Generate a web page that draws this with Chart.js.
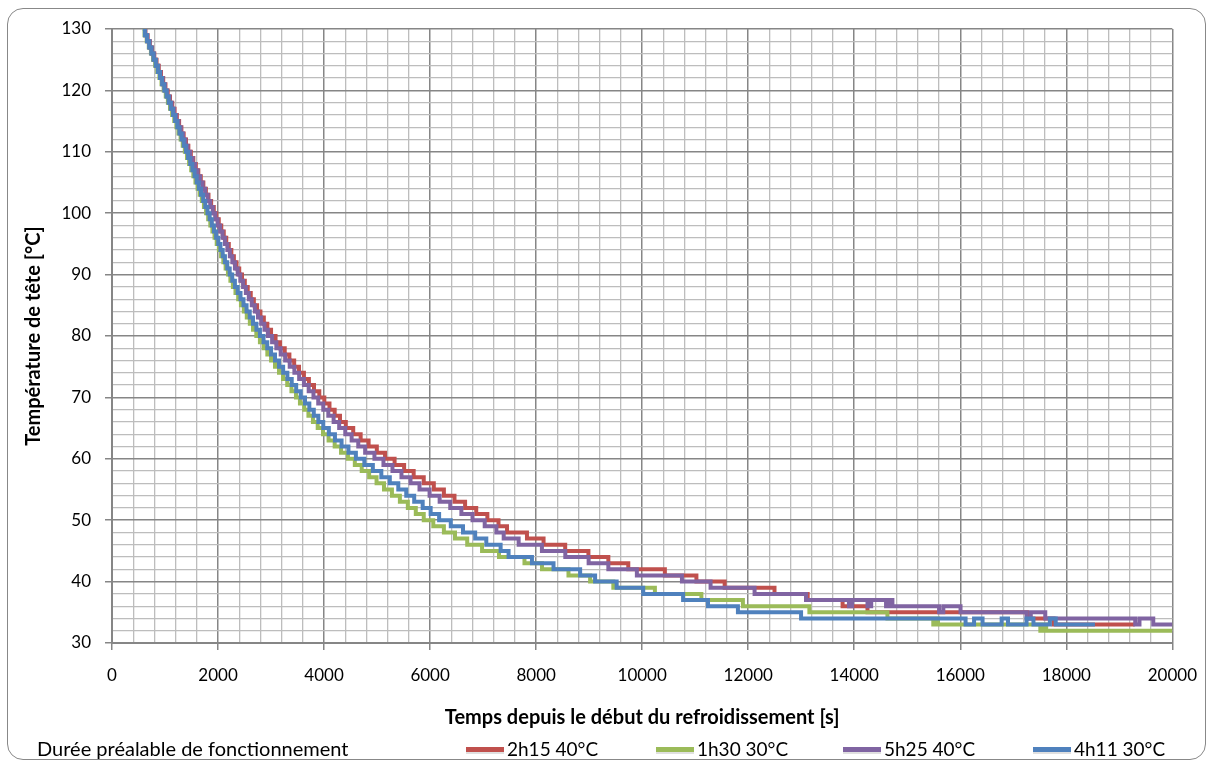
<!DOCTYPE html>
<html>
<head>
<meta charset="utf-8">
<script src="https://cdn.jsdelivr.net/npm/chart.js@4.4.0/dist/chart.umd.min.js"></script>
<style>
  html, body { margin: 0; padding: 0; background: #ffffff; }
  #wrap { position: relative; width: 1212px; height: 765px; overflow: hidden; font-family: 'Lato', 'Liberation Sans', sans-serif; }
  #frame { position: absolute; left: 7px; top: 8px; width: 1197px; height: 750px; border: 1.5px solid #888888; border-radius: 16px; }
  canvas { position: absolute; left: 0; top: 0; }
  .lg { position: absolute; top: 738px; font-size: 19px; line-height: 22px; color: #000; white-space: nowrap; }
  .lgt { font-size: 20px; top: 737px; }
  .mk { position: absolute; top: 747px; width: 38px; height: 5px; box-shadow: 0 2px 0 rgba(0,0,0,0.12); }
</style>
</head>
<body>
<div id="wrap">
  <div id="frame"></div>
  <canvas id="c" width="1212" height="765"></canvas>
  <div id="legend"></div>
</div>
<script>
// ---- Data: [time in s, head temperature in °C] step points ----
const seriesNames = ['2h15 40°C', '1h30 30°C', '5h25 40°C', '4h11 30°C'];
const seriesColors = ['#C0504D', '#9BBB59', '#8064A2', '#4F81BD'];
const legendTitle = 'Durée préalable de fonctionnement';
const xTicksMajor = [0, 2000, 4000, 6000, 8000, 10000, 12000, 14000, 16000, 18000, 20000];
const yTicksMajor = [30, 40, 50, 60, 70, 80, 90, 100, 110, 120, 130];

const data_2h15 = [
[588,130],[630,129],[672,128],[714,127],[756,126],[798,125],[840,124],[882,123],[924,122],[966,121],
[1008,120],[1051,119],[1094,118],[1137,117],[1180,116],[1223,115],[1266,114],[1309,113],[1352,112],[1396,111],
[1440,110],[1487,109],[1534,108],[1581,107],[1628,106],[1675,105],[1723,104],[1771,103],[1820,102],[1870,101],
[1920,100],[1967,99],[2014,98],[2061,97],[2108,96],[2155,95],[2203,94],[2251,93],[2299,92],[2349,91],
[2400,90],[2452,89],[2505,88],[2560,87],[2617,86],[2676,85],[2737,84],[2800,83],[2864,82],[2930,81],
[3000,80],[3085,79],[3170,78],[3258,77],[3346,76],[3436,75],[3527,74],[3620,73],[3714,72],[3810,71],
[3910,70],[4005,69],[4102,68],[4200,67],[4300,66],[4410,65],[4550,64],[4690,63],[4840,62],[4995,61],
[5150,60],[5330,59],[5510,58],[5690,57],[5880,56],[6070,55],[6260,54],[6460,53],[6660,52],[6870,51],
[7080,50],[7290,49],[7451,48],[7827,47],[8140,46],[8548,45],[8986,44],[9362,43],[9738,42],[10428,41],
[11023,40],[11556,39],[12496,38],[13122,37],[13780,36],[14250,35],[17260,34],[17760,33],[19290,33]
];

const data_1h30 = [
[575,130],[614,129],[654,128],[694,127],[734,126],[774,125],[814,124],[854,123],[894,122],[934,121],
[974,120],[1014,119],[1054,118],[1094,117],[1134,116],[1174,115],[1214,114],[1254,113],[1294,112],[1334,111],
[1374,110],[1414,109],[1454,108],[1494,107],[1534,106],[1574,105],[1614,104],[1654,103],[1694,102],[1734,101],
[1774,100],[1814,99],[1854,98],[1894,97],[1934,96],[1975,95],[2016,94],[2058,93],[2100,92],[2143,91],
[2187,90],[2233,89],[2280,88],[2329,87],[2380,86],[2432,85],[2486,84],[2542,83],[2600,82],[2660,81],
[2722,80],[2790,79],[2860,78],[2930,77],[3000,76],[3075,75],[3150,74],[3225,73],[3305,72],[3385,71],
[3470,70],[3545,69],[3625,68],[3705,67],[3790,66],[3880,65],[3980,64],[4085,63],[4200,62],[4320,61],
[4450,60],[4580,59],[4710,58],[4850,57],[4990,56],[5130,55],[5280,54],[5430,53],[5580,52],[5730,51],
[5880,50],[6060,49],[6260,48],[6470,47],[6700,46],[6980,45],[7300,44],[7780,43],[8110,42],[8610,41],
[9018,40],[9456,39],[10240,38],[11117,37],[11900,36],[13154,35],[14626,34],[15491,33],[15540,34],[15580,33],
[17510,32],[17560,33],[17620,32],[20000,32]
];

const data_5h25 = [
[585,130],[626,129],[667,128],[708,127],[749,126],[790,125],[831,124],[872,123],[913,122],[954,121],
[995,120],[1038,119],[1081,118],[1124,117],[1167,116],[1210,115],[1253,114],[1296,113],[1339,112],[1382,111],
[1425,110],[1472,109],[1519,108],[1566,107],[1613,106],[1660,105],[1708,104],[1756,103],[1804,102],[1852,101],
[1900,100],[1946,99],[1992,98],[2038,97],[2084,96],[2130,95],[2176,94],[2223,93],[2270,92],[2319,91],
[2370,90],[2420,89],[2472,88],[2525,87],[2580,86],[2636,85],[2694,84],[2753,83],[2814,82],[2876,81],
[2940,80],[3020,79],[3100,78],[3182,77],[3266,76],[3352,75],[3440,74],[3530,73],[3620,72],[3710,71],
[3800,70],[3890,69],[3985,68],[4080,67],[4180,66],[4285,65],[4400,64],[4520,63],[4645,62],[4775,61],
[4950,60],[5120,59],[5290,58],[5460,57],[5630,56],[5800,55],[5990,54],[6180,53],[6380,52],[6590,51],
[6800,50],[7030,49],[7250,48],[7388,47],[7670,46],[8109,45],[8550,44],[8990,43],[9362,42],[9900,41],
[10750,40],[11290,39],[12120,38],[13090,37],[13900,36],[13960,37],[14250,36],[14320,37],[14600,36],[14650,37],
[14720,36],[15600,35],[15680,36],[16005,35],[17250,34],[17330,35],[17603,34],[19300,33],[19380,34],[19640,33],
[20000,33]
];

const data_4h11 = [
[580,130],[620,129],[661,128],[702,127],[743,126],[783,125],[824,124],[865,123],[906,122],[946,121],
[987,120],[1028,119],[1068,118],[1109,117],[1150,116],[1190,115],[1231,114],[1272,113],[1313,112],[1353,111],
[1394,110],[1435,109],[1475,108],[1516,107],[1557,106],[1598,105],[1638,104],[1679,103],[1720,102],[1760,101],
[1801,100],[1842,99],[1883,98],[1923,97],[1964,96],[2005,95],[2046,94],[2088,93],[2130,92],[2174,91],
[2220,90],[2268,89],[2318,88],[2370,87],[2424,86],[2480,85],[2538,84],[2598,83],[2660,82],[2724,81],
[2790,80],[2858,79],[2928,78],[3000,77],[3074,76],[3150,75],[3228,74],[3308,73],[3390,72],[3474,71],
[3560,70],[3640,69],[3722,68],[3806,67],[3892,66],[3985,65],[4090,64],[4205,63],[4330,62],[4460,61],
[4600,60],[4760,59],[4920,58],[5080,57],[5240,56],[5400,55],[5550,54],[5700,53],[5860,52],[6010,51],
[6170,50],[6390,49],[6620,48],[6850,47],[7060,46],[7330,45],[7480,44],[7921,43],[8328,42],[8830,41],
[9112,40],[9519,39],[10020,38],[10772,37],[11242,36],[11806,35],[12997,34],[16100,33],[16260,34],[16420,33],
[16780,34],[16900,33],[17250,34],[17380,33],[17690,34],[17800,33],[18540,33]
];

const seriesData = [data_2h15, data_1h30, data_5h25, data_4h11];
const drawOrder = [4, 3, 2, 1]; // blue on top, as in the original

const FONT = "'Lato', 'Liberation Sans', sans-serif";
const MAJOR = '#868686', MINOR = '#bdbdbd';
const isMajorX = v => xTicksMajor.includes(Math.round(v));
const isMajorY = v => yTicksMajor.includes(Math.round(v));

new Chart(document.getElementById('c'), {
  type: 'line',
  data: {
    datasets: seriesData.map((d, i) => ({
      label: seriesNames[i],
      data: d.map(p => ({ x: p[0], y: p[1] })),
      borderColor: seriesColors[i],
      backgroundColor: seriesColors[i],
      borderWidth: 4,
      stepped: 'before',
      pointRadius: 0,
      fill: false,
      order: drawOrder[i],
      borderJoinStyle: 'miter',
      borderCapStyle: 'butt'
    }))
  },
  options: {
    responsive: false,
    animation: false,
    devicePixelRatio: 1,
    layout: { padding: { left: 0, right: 36, top: 29, bottom: 0 } },
    plugins: { legend: { display: false }, tooltip: { enabled: false } },
    scales: {
      x: {
        type: 'linear', min: 0, max: 20000,
        afterFit: s => { s.height = 122; },
        afterBuildTicks: s => { s.ticks = []; for (let v = 0; v <= 20000; v += 400) s.ticks.push({ value: v }); },
        ticks: {
          autoSkip: false, maxRotation: 0, padding: 15, color: '#000',
          font: { family: FONT, size: 17 },
          callback: v => isMajorX(v) ? String(v) : ''
        },
        grid: {
          color: c => isMajorX(c.tick.value) ? MAJOR : MINOR,
          lineWidth: c => isMajorX(c.tick.value) ? 1.5 : 1.3,
          tickLength: 7,
          tickColor: c => isMajorX(c.tick.value) ? MAJOR : 'rgba(0,0,0,0)',
          tickWidth: 1.5
        },
        border: { color: MAJOR, width: 2 },
        title: {
          display: true, text: 'Temps depuis le début du refroidissement [s]', color: '#000',
          font: { family: FONT, size: 20, weight: 'bold' }, padding: { top: 0, bottom: 35 }
        }
      },
      y: {
        type: 'linear', min: 30, max: 130,
        afterFit: s => { s.width = 112; },
        afterBuildTicks: s => { s.ticks = []; for (let v = 30; v <= 130; v += 2) s.ticks.push({ value: v }); },
        ticks: {
          autoSkip: false, padding: 14, color: '#000',
          font: { family: FONT, size: 17 },
          callback: v => isMajorY(v) ? String(v) : ''
        },
        grid: {
          color: c => isMajorY(c.tick.value) ? MAJOR : MINOR,
          lineWidth: c => isMajorY(c.tick.value) ? 1.5 : 1.3,
          tickLength: 7,
          tickColor: c => isMajorY(c.tick.value) ? MAJOR : 'rgba(0,0,0,0)',
          tickWidth: 1.5
        },
        border: { color: MAJOR, width: 2 },
        title: {
          display: true, text: 'Température de tête [°C]', color: '#000',
          font: { family: FONT, size: 20, weight: 'bold' }, padding: { top: 22, bottom: 0 }
        }
      }
    }
  }
});

// ---- Legend (drawn as real text below the chart) ----
const legendEl = document.getElementById('legend');
const legendMarkX = [466, 656, 843, 1033];
const t = document.createElement('div');
t.className = 'lg lgt'; t.style.left = '37px'; t.textContent = legendTitle;
legendEl.appendChild(t);
seriesNames.forEach((name, i) => {
  const m = document.createElement('div');
  m.className = 'mk'; m.style.left = legendMarkX[i] + 'px'; m.style.background = seriesColors[i];
  legendEl.appendChild(m);
  const l = document.createElement('div');
  l.className = 'lg'; l.style.left = (legendMarkX[i] + 41) + 'px'; l.textContent = name;
  legendEl.appendChild(l);
});
</script>
</body>
</html>
